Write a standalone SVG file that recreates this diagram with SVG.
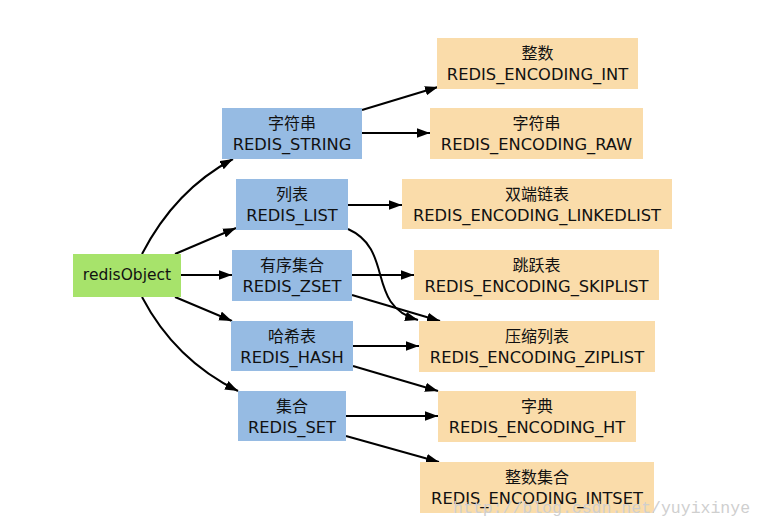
<svg xmlns="http://www.w3.org/2000/svg" width="763" height="528" viewBox="0 0 763 528">
<defs>
<marker id="ah" markerWidth="13" markerHeight="10" refX="13" refY="5" orient="auto" markerUnits="userSpaceOnUse">
<path d="M0,0.3 L13,5 L0,9.7 Z" fill="#000"/>
</marker>
<style>
.root{fill:#a7e36b}
.type{fill:#96bbe3}
.enc{fill:#fadcaa}
text{font-family:"DejaVu Sans","Noto Sans CJK SC",sans-serif;font-size:16.3px;fill:#111;text-anchor:middle}
.zh{font-family:"Noto Sans CJK SC","DejaVu Sans",sans-serif;font-size:16px}
.edge{fill:none;stroke:#000;stroke-width:2;marker-end:url(#ah)}
.wm{font-family:"Liberation Mono",monospace;font-size:16.5px;fill:#cfcfcf;text-anchor:start}
</style>
</defs>
<rect width="763" height="528" fill="#fff"/>
<g id="connectors">
<path class="edge" d="M142,254 Q175,190 233,159"/>
<path class="edge" d="M175,254 L236,228"/>
<path class="edge" d="M181,275 L232,275"/>
<path class="edge" d="M175,297 L232,321"/>
<path class="edge" d="M142,297 Q175,360 238,391"/>
<path class="edge" d="M362,110 L438,87"/>
<path class="edge" d="M362,133 L430,133"/>
<path class="edge" d="M348,205 L402,205"/>
<path class="edge" d="M348,229 C395,250 365,305 418,320"/>
<path class="edge" d="M352,275 L414,275"/>
<path class="edge" d="M352,295 L440,321"/>
<path class="edge" d="M353,346 L419,346"/>
<path class="edge" d="M353,366 L438,391"/>
<path class="edge" d="M346,416 L438,416"/>
<path class="edge" d="M346,436 L439,462"/>
</g>
<g id="redisObject"><rect class="root" x="73" y="254" width="108" height="43"/><text x="127" y="280" style="font-size:15.5px">redisObject</text></g>
<g id="REDIS_STRING"><rect class="type" x="222" y="108" width="140" height="51"/><text class="zh" x="292" y="129">字符串</text><text x="292" y="150">REDIS_STRING</text></g>
<g id="REDIS_LIST"><rect class="type" x="236" y="179" width="112" height="51"/><text class="zh" x="292" y="200">列表</text><text x="292" y="221">REDIS_LIST</text></g>
<g id="REDIS_ZSET"><rect class="type" x="232" y="250" width="120" height="51"/><text class="zh" x="292" y="271">有序集合</text><text x="292" y="292">REDIS_ZSET</text></g>
<g id="REDIS_HASH"><rect class="type" x="231" y="321" width="122" height="50"/><text class="zh" x="292" y="341.5">哈希表</text><text x="292" y="362.5">REDIS_HASH</text></g>
<g id="REDIS_SET"><rect class="type" x="238" y="391" width="108" height="50"/><text class="zh" x="292" y="411.5">集合</text><text x="292" y="432.5">REDIS_SET</text></g>
<g id="ENC_INT"><rect class="enc" x="437" y="38" width="201" height="51"/><text class="zh" x="537.5" y="59">整数</text><text x="537.5" y="80">REDIS_ENCODING_INT</text></g>
<g id="ENC_RAW"><rect class="enc" x="430" y="108" width="213" height="51"/><text class="zh" x="536.5" y="129">字符串</text><text x="536.5" y="150">REDIS_ENCODING_RAW</text></g>
<g id="ENC_LINKEDLIST"><rect class="enc" x="402" y="179" width="270" height="50"/><text class="zh" x="537" y="199.5">双端链表</text><text x="537" y="220.5">REDIS_ENCODING_LINKEDLIST</text></g>
<g id="ENC_SKIPLIST"><rect class="enc" x="414" y="250" width="245" height="50"/><text class="zh" x="536.5" y="270.5">跳跃表</text><text x="536.5" y="291.5">REDIS_ENCODING_SKIPLIST</text></g>
<g id="ENC_ZIPLIST"><rect class="enc" x="419" y="321" width="236" height="51"/><text class="zh" x="537" y="342">压缩列表</text><text x="537" y="363">REDIS_ENCODING_ZIPLIST</text></g>
<g id="ENC_HT"><rect class="enc" x="438" y="391" width="198" height="51"/><text class="zh" x="537" y="412">字典</text><text x="537" y="433">REDIS_ENCODING_HT</text></g>
<g id="ENC_INTSET"><rect class="enc" x="420" y="462" width="234" height="51"/><text class="zh" x="537" y="483">整数集合</text><text x="537" y="504">REDIS_ENCODING_INTSET</text></g>
<text class="wm" x="453" y="513">http://blog.csdn.net/yuyixinye</text>
</svg>
